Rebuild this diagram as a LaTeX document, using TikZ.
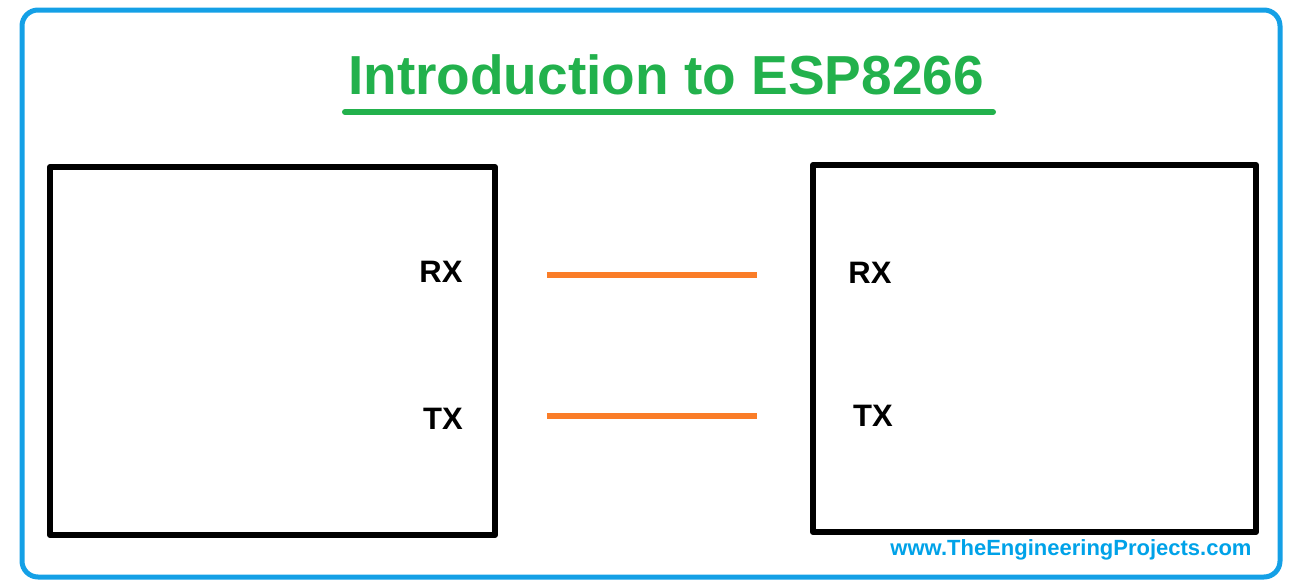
\documentclass[tikz,border=0pt]{standalone}
\usepackage{fontspec}
\setmainfont{Liberation Sans}
\usetikzlibrary{positioning}
\definecolor{framblue}{RGB}{20,160,230}
\definecolor{titlegreen}{RGB}{34,177,76}
\definecolor{wireorange}{RGB}{250,125,40}
\definecolor{urlblue}{RGB}{0,162,232}
\tikzset{
  board/.style={draw=black,line width=6pt},
  pinlabel/.style={font=\fontsize{31}{34}\selectfont\bfseries,inner sep=0pt},
  wire/.style={draw=wireorange,line width=6pt}
}
\begin{document}
\begin{tikzpicture}[line cap=round,line join=round,x=1pt,y=-1pt]
\useasboundingbox (0,0) rectangle (1291,587);
\draw [framblue,line width=5pt,rounded corners=16pt] (22,10) rectangle (1280,577);
\node (title) [text=titlegreen,font=\fontsize{55}{60}\selectfont\bfseries,inner sep=0pt] at (666,75) {Introduction to ESP8266};
\draw [titlegreen,line width=6pt] (345,112) -- (993,112);
\draw [board] (50,167) rectangle (495,535);
\draw [board] (813,165) rectangle (1256,532);
\node (rxa) [pinlabel] at (441,272) {RX};
\node (txa) [pinlabel] at (443,419) {TX};
\node (rxb) [pinlabel] at (870,273) {RX};
\node (txb) [pinlabel] at (873,416) {TX};
\coordinate (rxl) at (547,275);
\coordinate (rxr) at (757,275);
\coordinate (txl) at (547,416);
\coordinate (txr) at (757,416);
\draw [wire,line cap=butt] (rxl) -- (rxr);
\draw [wire,line cap=butt] (txl) -- (txr);
\node (url) [text=urlblue,font=\fontsize{22}{24}\selectfont\bfseries,inner sep=0pt] at (1071,550) {www.TheEngineeringProjects.com};
\end{tikzpicture}
\end{document}
